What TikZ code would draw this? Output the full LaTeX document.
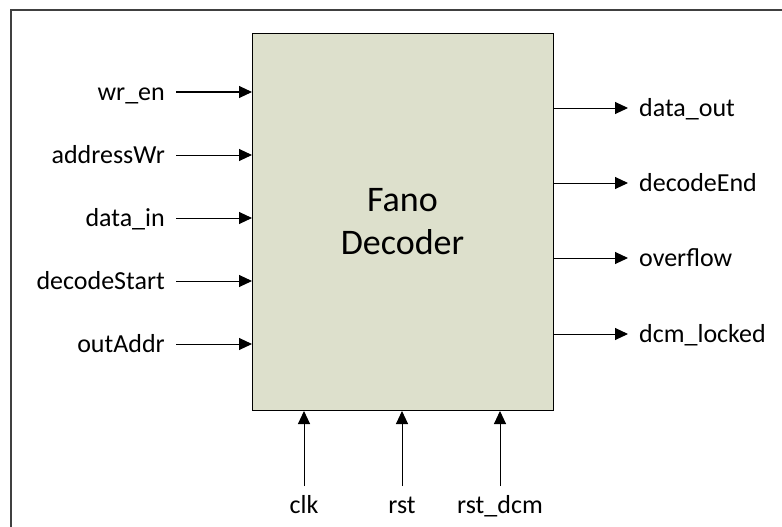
\documentclass[tikz,border=0pt]{standalone}
\usepackage{fontspec}
\setmainfont{Carlito}
\usetikzlibrary{arrows.meta}
\definecolor{blockfill}{RGB}{221,224,204}
\definecolor{framegray}{RGB}{64,64,64}
\begin{document}
\begin{tikzpicture}[x=1pt,y=-1pt,
  sig/.style={font=\fontsize{26}{30}\selectfont, inner sep=0pt},
  wire/.style={line width=1pt, -{Triangle[length=13pt,width=12pt]}}]
\useasboundingbox (0,0) rectangle (782,527);
% outer frame
\draw[framegray, line width=1.5pt] (11,527) -- (11,10) -- (782,10);

% decoder block
\node[draw=black, fill=blockfill, line width=1pt, minimum width=301pt,
      minimum height=377pt, anchor=north west, inner sep=0pt] (dec) at (252,33) {};
\node[font=\fontsize{36}{43}\selectfont, inner sep=0pt, anchor=base] (fano) at (402.5,211) {Fano};
\node[font=\fontsize{36}{43}\selectfont, inner sep=0pt, anchor=base] (decname) at (402.5,254) {Decoder};

% inputs
\foreach \name/\y [count=\i] in {wr\_en/92, addressWr/155, data\_in/218, decodeStart/281, outAddr/344}{
  \node[sig, anchor=base east] (in\i) at (165,\y+8) {\name};
  \coordinate (it\i) at (176,\y);
  \draw[wire] (it\i) -- (it\i -| dec.west);
}

% outputs
\foreach \name/\y [count=\i] in {data\_out/108, decodeEnd/183, overflow/258, dcm\_locked/334}{
  \coordinate (ot\i) at (553,\y);
  \coordinate (oh\i) at (628,\y);
  \draw[wire] (ot\i) -- (oh\i);
  \node[sig, anchor=base west] (out\i) at (639,\y+8) {\name};
}

% clock and resets
\foreach \name/\x [count=\i] in {clk/304, rst/402, rst\_dcm/500}{
  \node[sig, anchor=base] (bt\i) at (\x,513) {\name};
  \coordinate (bs\i) at (\x,486);
  \draw[wire] (bs\i) -- (bs\i |- dec.south);
}
\end{tikzpicture}
\end{document}
